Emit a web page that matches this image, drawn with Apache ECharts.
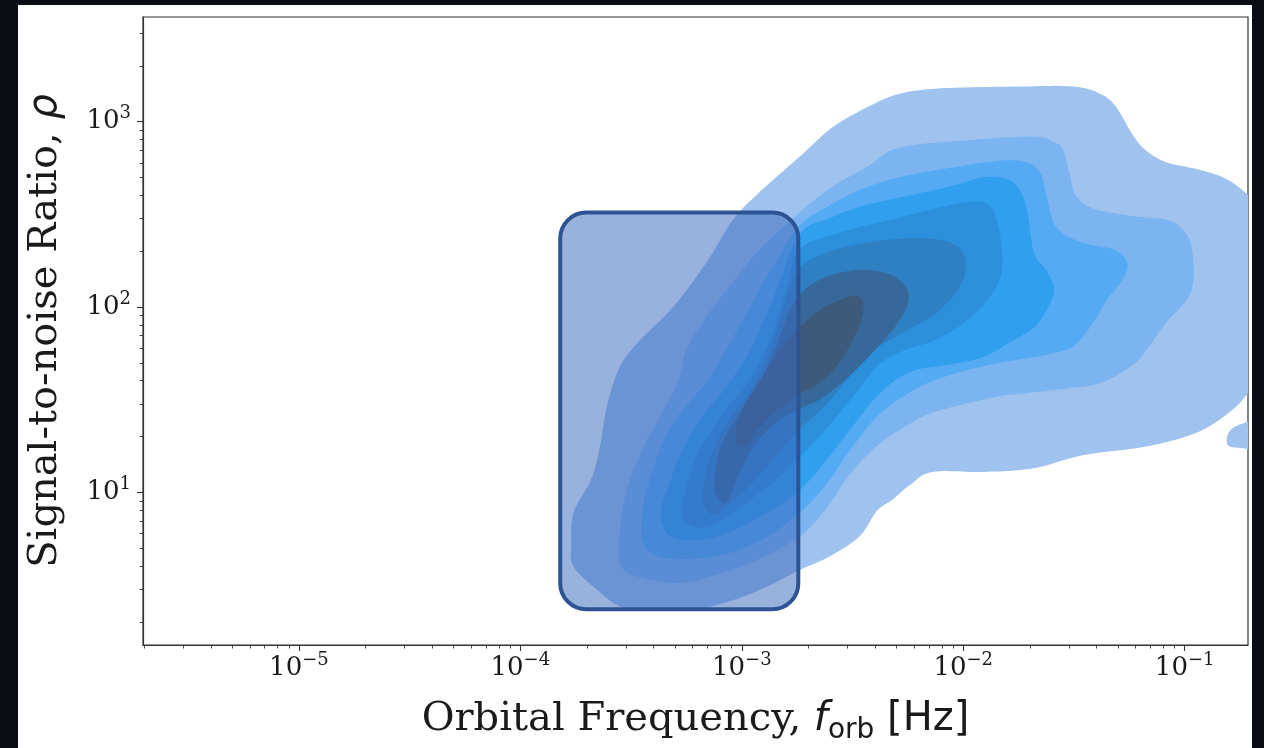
<!DOCTYPE html>
<html>
<head>
<meta charset="utf-8">
<script src="https://cdn.jsdelivr.net/npm/echarts@6/dist/echarts.min.js"></script>
<style>
html,body{margin:0;padding:0;background:#0a0d13;}
#c{width:1264px;height:748px;}
</style>
</head>
<body>
<div id="c"></div>
<script>
// ---------- axis ticks (log10 exponents) ----------
const xMajorExponents = [-5, -4, -3, -2, -1];
const yMajorExponents = [1, 2, 3];
const minorMultipliers = [2, 3, 4, 5, 6, 7, 8, 9];
const xRangeLog = [-5.704, -0.714];   // orbital frequency, log10 Hz
const yRangeLog = [0.176, 3.565];     // SNR, log10

// ---------- KDE filled-contour levels (outer -> inner) ----------
// each vertex: [log10 f_orb (Hz), log10 SNR]
const levelColors = ['#9fc3ee', '#7bb4f0', '#54aaf3', '#2f9fee', '#2b8fdc', '#2f7fc3', '#36689a', '#3d5a7a'];

const contourL1 = [[-3.37,0.36],[-3.54,0.38],[-3.65,0.47],[-3.76,0.60],[-3.77,0.71],[-3.76,0.89],[-3.68,1.07],[-3.64,1.25],[-3.61,1.46],[-3.55,1.68],[-3.46,1.82],[-3.31,2.00],[-3.16,2.24],[-3.04,2.47],[-2.92,2.62],[-2.74,2.81],[-2.59,2.97],[-2.43,3.08],[-2.29,3.15],[-2.10,3.18],[-1.74,3.19],[-1.50,3.19],[-1.38,3.15],[-1.31,3.08],[-1.23,2.92],[-1.17,2.84],[-1.08,2.78],[-0.93,2.74],[-0.81,2.69],[-0.71,2.60],[-0.64,2.50],[-0.64,1.61],[-0.71,1.54],[-0.78,1.45],[-0.93,1.33],[-1.16,1.25],[-1.46,1.20],[-1.68,1.13],[-1.91,1.11],[-2.14,1.11],[-2.24,1.04],[-2.32,0.96],[-2.39,0.90],[-2.47,0.76],[-2.61,0.65],[-2.74,0.58],[-2.87,0.50],[-3.01,0.43],[-3.19,0.37]];
const contourL1Island = [[-0.81,1.29],[-0.79,1.34],[-0.74,1.37],[-0.67,1.38],[-0.67,1.24],[-0.75,1.24],[-0.80,1.25]];
const contourL2 = [[-3.28,0.51],[-3.46,0.54],[-3.55,0.61],[-3.55,0.80],[-3.52,1.01],[-3.45,1.23],[-3.37,1.41],[-3.29,1.59],[-3.25,1.77],[-3.17,1.93],[-3.05,2.12],[-2.92,2.31],[-2.74,2.51],[-2.59,2.65],[-2.43,2.76],[-2.29,2.86],[-1.98,2.90],[-1.68,2.92],[-1.59,2.89],[-1.55,2.85],[-1.52,2.72],[-1.49,2.60],[-1.41,2.53],[-1.23,2.49],[-1.08,2.47],[-1.01,2.42],[-0.97,2.33],[-0.96,2.15],[-0.99,2.04],[-1.08,1.92],[-1.16,1.79],[-1.23,1.69],[-1.38,1.59],[-1.53,1.56],[-1.68,1.54],[-1.83,1.52],[-1.98,1.48],[-2.14,1.43],[-2.24,1.37],[-2.38,1.26],[-2.51,1.10],[-2.62,0.91],[-2.74,0.76],[-2.92,0.64],[-3.10,0.56]];
const contourL3 = [[-3.28,0.64],[-3.39,0.66],[-3.45,0.74],[-3.45,0.88],[-3.43,1.01],[-3.37,1.23],[-3.29,1.41],[-3.17,1.58],[-3.07,1.77],[-2.96,2.01],[-2.85,2.24],[-2.74,2.44],[-2.60,2.55],[-2.47,2.63],[-2.29,2.70],[-2.06,2.75],[-1.83,2.79],[-1.71,2.78],[-1.65,2.72],[-1.62,2.58],[-1.58,2.43],[-1.47,2.35],[-1.32,2.31],[-1.26,2.24],[-1.28,2.15],[-1.35,2.04],[-1.41,1.92],[-1.49,1.80],[-1.56,1.76],[-1.68,1.73],[-1.83,1.70],[-1.98,1.66],[-2.14,1.60],[-2.24,1.54],[-2.38,1.42],[-2.51,1.23],[-2.62,1.04],[-2.74,0.89],[-2.87,0.77],[-3.01,0.69],[-3.14,0.65]];
const contourL4 = [[-3.23,0.74],[-3.32,0.76],[-3.36,0.83],[-3.36,0.93],[-3.33,1.03],[-3.28,1.20],[-3.19,1.39],[-3.07,1.57],[-2.96,1.77],[-2.86,2.04],[-2.74,2.39],[-2.60,2.48],[-2.47,2.54],[-2.29,2.59],[-2.06,2.65],[-1.91,2.70],[-1.80,2.69],[-1.74,2.62],[-1.71,2.51],[-1.68,2.29],[-1.62,2.19],[-1.59,2.09],[-1.62,1.99],[-1.68,1.89],[-1.79,1.81],[-1.91,1.73],[-2.06,1.69],[-2.24,1.65],[-2.38,1.53],[-2.51,1.34],[-2.62,1.17],[-2.74,1.01],[-2.87,0.90],[-3.01,0.81],[-3.12,0.76]];
const contourL5 = [[-3.19,0.81],[-3.26,0.85],[-3.27,0.93],[-3.24,1.07],[-3.19,1.23],[-3.07,1.45],[-2.98,1.58],[-2.88,1.80],[-2.80,2.09],[-2.74,2.31],[-2.56,2.40],[-2.33,2.47],[-2.13,2.53],[-1.95,2.57],[-1.87,2.53],[-1.83,2.36],[-1.83,2.17],[-1.89,2.04],[-1.99,1.92],[-2.13,1.82],[-2.26,1.77],[-2.38,1.69],[-2.49,1.53],[-2.62,1.34],[-2.74,1.19],[-2.87,1.04],[-3.01,0.92],[-3.11,0.84]];
const contourL6 = [[-3.13,0.88],[-3.17,0.93],[-3.17,1.04],[-3.14,1.20],[-3.06,1.39],[-2.96,1.55],[-2.87,1.77],[-2.80,2.04],[-2.74,2.21],[-2.60,2.30],[-2.42,2.35],[-2.24,2.37],[-2.10,2.36],[-2.01,2.31],[-1.99,2.19],[-2.04,2.07],[-2.13,1.96],[-2.26,1.87],[-2.40,1.77],[-2.51,1.63],[-2.62,1.47],[-2.74,1.34],[-2.85,1.19],[-2.96,1.04],[-3.06,0.93]];
const contourL7 = [[-3.08,0.94],[-3.12,1.00],[-3.12,1.12],[-3.09,1.26],[-3.03,1.39],[-2.94,1.55],[-2.85,1.77],[-2.78,1.99],[-2.71,2.10],[-2.60,2.17],[-2.47,2.20],[-2.34,2.18],[-2.26,2.11],[-2.25,2.02],[-2.31,1.89],[-2.42,1.74],[-2.53,1.61],[-2.65,1.50],[-2.74,1.45],[-2.85,1.37],[-2.94,1.26],[-3.00,1.13],[-3.04,1.01],[-3.06,0.96]];
const contourL8 = [[-3.01,1.24],[-3.03,1.31],[-3.00,1.44],[-2.92,1.60],[-2.83,1.76],[-2.74,1.89],[-2.64,1.99],[-2.55,2.04],[-2.48,2.06],[-2.45,2.00],[-2.48,1.87],[-2.56,1.70],[-2.66,1.58],[-2.74,1.53],[-2.83,1.45],[-2.92,1.35],[-2.97,1.27]];

const contourPolygons = [
  {level: 0, pts: contourL1}, {level: 0, pts: contourL1Island},
  {level: 1, pts: contourL2}, {level: 2, pts: contourL3}, {level: 3, pts: contourL4},
  {level: 4, pts: contourL5}, {level: 5, pts: contourL6}, {level: 6, pts: contourL7},
  {level: 7, pts: contourL8}
];

// ---------- highlighted region (rounded box) ----------
const boxFreqRange = [1.514e-4, 1.80e-3];   // Hz
const boxSnrRange = [2.34, 323.6];

// ---------- build ----------
const minorX = [], minorY = [];
for (let k = -7; k <= 0; k++) minorMultipliers.forEach(m => { const v = k + Math.log10(m); if (v > xRangeLog[0] && v < xRangeLog[1]) minorX.push(v); });
for (let k = 0; k <= 4; k++) minorMultipliers.forEach(m => { const v = k + Math.log10(m); if (v > yRangeLog[0] && v < yRangeLog[1]) minorY.push(v); });

// closed Catmull-Rom smoothing of an outline already mapped to pixels
function smoothClosed(px, steps) {
  const n = px.length, out = [];
  for (let i = 0; i < n; i++) {
    const p0 = px[(i - 1 + n) % n], p1 = px[i], p2 = px[(i + 1) % n], p3 = px[(i + 2) % n];
    for (let s = 0; s < steps; s++) {
      const t = s / steps, t2 = t * t, t3 = t2 * t;
      out.push([0, 1].map(d => 0.5 * ((2 * p1[d]) + (-p0[d] + p2[d]) * t +
        (2 * p0[d] - 5 * p1[d] + 4 * p2[d] - p3[d]) * t2 + (-p0[d] + 3 * p1[d] - 3 * p2[d] + p3[d]) * t3)));
    }
  }
  return out;
}

const ink = '#1a1a1a';
const supFmt = v => { const e = Math.round(v); return '{b|10}{s|' + (e < 0 ? '\u2212' + (-e) : String(e)) + '}'; };
const labelRich = {
  b: {fontFamily: 'DejaVu Serif', fontSize: 26, lineHeight: 34, color: ink},
  s: {fontFamily: 'DejaVu Serif', fontSize: 18, lineHeight: 20, verticalAlign: 'top', color: ink}
};
const titleRich = {
  a: {fontFamily: 'DejaVu Serif', fontSize: 40, lineHeight: 50, color: ink},
  i: {fontFamily: 'DejaVu Sans', fontStyle: 'italic', fontSize: 40, lineHeight: 50, color: ink},
  s: {fontFamily: 'DejaVu Sans', fontSize: 28, lineHeight: 24, verticalAlign: 'bottom', color: ink},
  r: {fontFamily: 'DejaVu Sans', fontSize: 40, lineHeight: 50, color: ink}
};
const spine = {color: '#333', width: 1.2};

const chart = echarts.init(document.getElementById('c'), null, {renderer: 'canvas'});
chart.setOption({
  backgroundColor: 'transparent',
  animation: false,
  graphic: [{type: 'rect', z: -10, shape: {x: 18, y: 5, width: 1234, height: 743}, style: {fill: '#ffffff'}}],
  grid: {left: 143, top: 17, width: 1105, height: 628, containLabel: false, outerBoundsMode: 'none',
         show: true, borderColor: '#333', borderWidth: 1.2, backgroundColor: '#fff'},
  xAxis: [
    {type: 'value', min: xRangeLog[0], max: xRangeLog[1], position: 'bottom',
     axisLine: {show: true, onZero: false, lineStyle: spine},
     splitLine: {show: false},
     axisTick: {show: true, length: 6, lineStyle: {color: '#333', width: 1.1}, customValues: xMajorExponents},
     axisLabel: {show: true, margin: 6, customValues: xMajorExponents, formatter: supFmt, rich: labelRich},
     name: '{a|Orbital Frequency, }{i|f}{s|orb}{r| [Hz]}', nameLocation: 'middle', nameGap: 50,
     nameTextStyle: {rich: titleRich}},
    {type: 'value', min: xRangeLog[0], max: xRangeLog[1], position: 'bottom',
     axisLine: {show: false}, splitLine: {show: false}, axisLabel: {show: false},
     axisTick: {show: true, length: 3.5, lineStyle: {color: '#333', width: 0.9}, customValues: minorX}}
  ],
  yAxis: [
    {type: 'value', min: yRangeLog[0], max: yRangeLog[1], position: 'left',
     axisLine: {show: true, onZero: false, lineStyle: spine},
     splitLine: {show: false},
     axisTick: {show: true, length: 6, lineStyle: {color: '#333', width: 1.1}, customValues: yMajorExponents},
     axisLabel: {show: true, margin: 12, customValues: yMajorExponents, formatter: supFmt, rich: labelRich},
     name: '{a|Signal-to-noise Ratio, }{i|\u03c1}', nameLocation: 'middle', nameGap: 72,
     nameTextStyle: {rich: titleRich}},
    {type: 'value', min: yRangeLog[0], max: yRangeLog[1], position: 'left',
     axisLine: {show: false}, splitLine: {show: false}, axisLabel: {show: false},
     axisTick: {show: true, length: 3.5, lineStyle: {color: '#333', width: 0.9}, customValues: minorY}}
  ],
  series: [
    {type: 'custom', name: 'density', coordinateSystem: 'cartesian2d', xAxisIndex: 0, yAxisIndex: 0, clip: true, z: 2,
     data: contourPolygons.map((p, i) => [i, 0]),
     renderItem: (params, api) => {
       const poly = contourPolygons[params.dataIndex];
       const cs = params.coordSys;
       const px = poly.pts.map(p => api.coord(p));
       return {type: 'polygon',
         shape: {points: smoothClosed(px, 10)},
         clipPath: {type: 'rect', shape: {x: cs.x, y: cs.y, width: cs.width, height: cs.height}},
         style: {fill: levelColors[poly.level]}};
     }},
    {type: 'custom', name: 'highlight', coordinateSystem: 'cartesian2d', xAxisIndex: 0, yAxisIndex: 0, z: 5,
     data: [[Math.log10(boxFreqRange[0]), Math.log10(boxSnrRange[1]), Math.log10(boxFreqRange[1]), Math.log10(boxSnrRange[0])]],
     renderItem: (params, api) => {
       const p1 = api.coord([api.value(0), api.value(1)]);
       const p2 = api.coord([api.value(2), api.value(3)]);
       return {type: 'rect', shape: {x: p1[0], y: p1[1], width: p2[0] - p1[0], height: p2[1] - p1[1], r: 26},
         style: {fill: 'rgba(60,105,190,0.52)', stroke: '#2d5492', lineWidth: 4}};
     }}
  ]
});
</script>
</body>
</html>
